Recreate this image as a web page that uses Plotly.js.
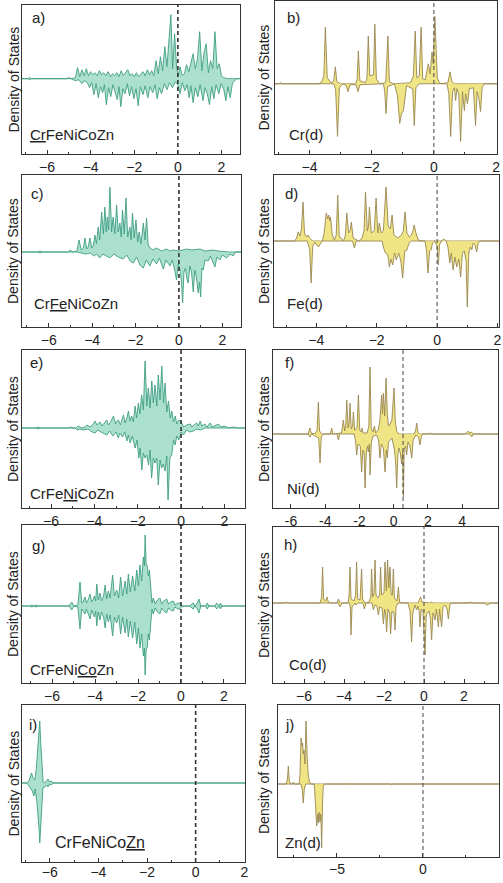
<!DOCTYPE html>
<html>
<head>
<meta charset="utf-8">
<script src="https://cdn.plot.ly/plotly-3.0.1.min.js"></script>
<style>html,body{margin:0;padding:0;background:#fff}#chart{width:503px;height:883px}</style>
</head>
<body>
<div id="chart"></div>
<script>
// ---- DATA: [energy (eV), DOS (arb. units)] ----
const aUp = [[-7.2,0],[-6.9,0],[-6.8,1],[-6.7,0],[-5.1,0],[-5.0,1],[-4.9,0],[-4.7,1],[-4.6,11],[-4.5,2],[-4.4,9],[-4.3,3],[-4.2,10],[-4.1,3],[-4.0,7],[-3.9,4],[-3.8,6],[-3.7,3],[-3.6,8],[-3.5,4],[-3.4,6],[-3.3,3],[-3.2,7],[-3.1,2],[-3.0,5],[-2.9,3],[-2.8,6],[-2.7,2],[-2.6,8],[-2.5,3],[-2.4,6],[-2.3,9],[-2.2,3],[-2.1,5],[-2.0,2],[-1.9,6],[-1.8,2],[-1.7,4],[-1.6,7],[-1.5,3],[-1.4,9],[-1.3,4],[-1.2,8],[-1.1,3],[-1.0,18],[-0.9,5],[-0.8,22],[-0.7,8],[-0.6,32],[-0.5,12],[-0.42,40],[-0.32,64],[-0.24,10],[-0.15,45],[-0.06,12],[0.02,3],[0.1,12],[0.2,3],[0.3,5],[0.4,14],[0.5,7],[0.6,15],[0.7,25],[0.8,10],[0.9,20],[1.0,47],[1.1,8],[1.2,26],[1.3,35],[1.4,6],[1.5,18],[1.6,10],[1.7,47],[1.8,10],[1.9,15],[2.0,3],[2.1,1],[2.3,0],[2.85,0]];
const aDn = [[-7.2,0],[-6.9,0],[-6.8,-1],[-6.7,0],[-4.9,0],[-4.7,-2],[-4.55,-1],[-4.4,-5],[-4.3,-2],[-4.15,-4],[-4.05,-9],[-3.95,-4],[-3.85,-16],[-3.75,-5],[-3.65,-19],[-3.55,-8],[-3.45,-14],[-3.37,-6],[-3.28,-26],[-3.18,-9],[-3.08,-18],[-2.98,-6],[-2.88,-13],[-2.78,-21],[-2.7,-8],[-2.62,-28],[-2.52,-10],[-2.42,-15],[-2.32,-5],[-2.22,-17],[-2.12,-8],[-2.02,-20],[-1.92,-10],[-1.82,-27],[-1.72,-8],[-1.6,-16],[-1.5,-7],[-1.38,-19],[-1.28,-8],[-1.15,-14],[-1.05,-6],[-0.95,-20],[-0.85,-9],[-0.75,-15],[-0.62,-5],[-0.5,-11],[-0.38,-4],[-0.25,-9],[-0.12,-3],[0.0,-6],[0.1,-15],[0.2,-4],[0.32,-12],[0.42,-6],[0.52,-19],[0.6,-7],[0.7,-24],[0.8,-9],[0.92,-18],[1.02,-6],[1.15,-22],[1.25,-9],[1.35,-15],[1.45,-26],[1.55,-8],[1.65,-20],[1.75,-6],[1.88,-15],[1.98,-5],[2.1,-10],[2.2,-22],[2.3,-8],[2.4,-19],[2.5,-5],[2.6,-2],[2.7,0],[2.85,0]];

const bUp = [[-5.11,0],[-4.98,0],[-4.93,1],[-4.88,0],[-3.7,0],[-3.6,2],[-3.54,8],[-3.49,57],[-3.43,6],[-3.3,1],[-3.22,3],[-3.17,17],[-3.12,2],[-3.0,0],[-2.52,0],[-2.47,4],[-2.43,33],[-2.38,3],[-2.2,1],[-2.15,6],[-2.11,48],[-2.06,8],[-1.94,9],[-1.9,60],[-1.85,5],[-1.75,0],[-1.55,1],[-1.48,48],[-1.43,2],[-1.3,0],[-0.75,1],[-0.66,8],[-0.6,53],[-0.55,6],[-0.47,8],[-0.41,57],[-0.36,5],[-0.28,4],[-0.18,20],[-0.12,10],[-0.06,32],[-0.02,20],[0.03,68],[0.07,25],[0.11,6],[0.16,2],[0.22,0],[0.45,1],[0.52,12],[0.58,2],[0.66,0],[2.03,0]];
const bDn = [[-5.11,0],[-3.22,0],[-3.16,-6],[-3.1,-53],[-3.04,-4],[-2.92,0],[-2.82,-2],[-2.76,-8],[-2.7,-1],[-2.5,-1],[-2.44,-8],[-2.38,-1],[-1.62,0],[-1.58,-8],[-1.54,-30],[-1.49,-3],[-1.27,0],[-1.17,-12],[-1.1,-40],[-1.04,-30],[-0.98,-27],[-0.94,-18],[-0.88,-2],[-0.68,-5],[-0.63,-42],[-0.58,-4],[-0.47,0],[0.42,0],[0.48,-10],[0.54,-53],[0.6,-8],[0.66,-4],[0.7,-17],[0.74,-5],[0.8,-10],[0.86,-58],[0.92,-8],[0.98,-27],[1.02,-10],[1.08,-20],[1.14,-5],[1.27,-4],[1.34,-42],[1.39,-8],[1.45,-15],[1.5,-28],[1.55,-4],[1.62,0],[2.03,0]];

const cUp = [[-7.23,0],[-6.5,0],[-6.4,1],[-6.3,0],[-5.1,0],[-5.0,2],[-4.9,0],[-4.7,1],[-4.6,12],[-4.5,2],[-4.4,4],[-4.33,14],[-4.25,3],[-4.18,5],[-4.1,14],[-4.02,4],[-3.95,6],[-3.87,17],[-3.8,8],[-3.72,25],[-3.65,12],[-3.56,40],[-3.48,18],[-3.41,45],[-3.35,20],[-3.3,35],[-3.24,22],[-3.18,65],[-3.1,20],[-3.03,35],[-2.95,18],[-2.87,47],[-2.8,20],[-2.72,29],[-2.66,15],[-2.6,42],[-2.52,18],[-2.44,54],[-2.36,15],[-2.26,25],[-2.2,12],[-2.14,39],[-2.06,14],[-1.98,32],[-1.9,10],[-1.83,20],[-1.75,8],[-1.64,29],[-1.56,12],[-1.49,34],[-1.42,8],[-1.37,5],[-1.2,2],[-1.03,4],[-0.8,1],[-0.57,3],[-0.4,1],[-0.26,2],[0.0,1],[0.2,2],[0.35,3],[0.6,2],[0.97,3],[1.2,1],[1.58,2],[1.8,1],[2.3,0],[2.86,0]];
const cDn = [[-7.23,0],[-6.5,0],[-6.4,-1],[-6.3,0],[-4.7,0],[-4.3,-2],[-4.1,-1],[-3.9,-4],[-3.8,-2],[-3.65,-6],[-3.5,-2],[-3.35,-4],[-3.18,-6],[-3.0,-2],[-2.8,-5],[-2.57,-7],[-2.4,-3],[-2.25,-9],[-2.1,-11],[-1.95,-5],[-1.8,-13],[-1.64,-16],[-1.5,-8],[-1.34,-14],[-1.2,-7],[-1.03,-12],[-0.9,-6],[-0.72,-17],[-0.6,-8],[-0.41,-14],[-0.3,-8],[-0.18,-20],[-0.11,-28],[-0.03,-12],[0.05,-18],[0.12,-30],[0.17,-51],[0.23,-20],[0.3,-16],[0.36,-26],[0.43,-31],[0.5,-14],[0.58,-20],[0.66,-40],[0.73,-18],[0.81,-26],[0.89,-41],[0.95,-30],[1.0,-45],[1.06,-16],[1.12,-18],[1.2,-8],[1.35,-9],[1.45,-4],[1.55,-10],[1.66,-15],[1.75,-5],[1.89,-8],[2.0,-3],[2.2,-6],[2.35,-2],[2.5,-4],[2.6,0],[2.86,0]];

const dUp = [[-5.4,0],[-4.72,0],[-4.65,3],[-4.6,9],[-4.54,5],[-4.49,12],[-4.44,39],[-4.39,8],[-4.33,4],[-4.27,6],[-4.22,3],[-4.12,0],[-3.8,0],[-3.74,8],[-3.67,28],[-3.62,22],[-3.59,26],[-3.55,20],[-3.53,24],[-3.47,6],[-3.4,1],[-3.34,6],[-3.29,46],[-3.24,5],[-3.1,0],[-3.04,5],[-2.99,28],[-2.93,8],[-2.88,10],[-2.84,19],[-2.78,3],[-2.6,0],[-2.5,2],[-2.42,10],[-2.37,49],[-2.31,10],[-2.27,15],[-2.24,34],[-2.18,8],[-2.08,10],[-2.02,43],[-1.96,8],[-1.91,18],[-1.85,8],[-1.78,10],[-1.69,54],[-1.62,15],[-1.55,12],[-1.49,26],[-1.43,6],[-1.3,3],[-1.18,6],[-1.12,10],[-1.06,29],[-1.0,8],[-0.92,4],[-0.85,6],[-0.8,10],[-0.76,16],[-0.7,8],[-0.62,1],[-0.5,0],[0.18,0],[0.25,1],[0.32,0],[2.05,0]];
const dDn = [[-5.4,0],[-4.3,0],[-4.22,-8],[-4.17,-42],[-4.12,-6],[-4.05,-1],[-3.98,-4],[-3.93,-6],[-3.87,-3],[-3.8,0],[-2.8,0],[-2.74,-7],[-2.68,0],[-1.82,0],[-1.76,-8],[-1.71,-12],[-1.63,-14],[-1.58,-26],[-1.53,-18],[-1.47,-24],[-1.41,-12],[-1.35,-19],[-1.27,-12],[-1.2,-20],[-1.14,-37],[-1.07,-10],[-1.0,-9],[-0.93,-2],[-0.85,0],[-0.4,0],[-0.35,-10],[-0.3,-32],[-0.25,-10],[-0.2,-9],[-0.15,-2],[-0.08,0],[0.0,-5],[0.04,-24],[0.08,-4],[0.14,0],[0.22,2],[0.3,0],[0.36,-6],[0.42,-22],[0.47,-12],[0.53,-29],[0.59,-16],[0.65,-26],[0.72,-18],[0.78,-36],[0.84,-12],[0.9,-10],[0.96,-20],[1.0,-66],[1.05,-12],[1.1,-6],[1.15,-9],[1.2,-2],[1.26,-4],[1.31,-11],[1.36,-2],[1.42,0],[2.05,0]];

const eUp = [[-7.34,0],[-6.7,0],[-6.6,1],[-6.5,0],[-5.2,0],[-5.1,1],[-5.0,0],[-4.85,0],[-4.74,2],[-4.6,0],[-4.45,1],[-4.35,3],[-4.2,1],[-4.05,4],[-3.97,7],[-3.88,3],[-3.8,5],[-3.74,6],[-3.65,2],[-3.55,5],[-3.43,8],[-3.35,3],[-3.25,6],[-3.12,12],[-3.02,4],[-2.95,7],[-2.89,8],[-2.8,3],[-2.72,8],[-2.66,13],[-2.58,5],[-2.5,10],[-2.43,17],[-2.36,7],[-2.28,12],[-2.2,6],[-2.12,22],[-2.05,10],[-1.97,25],[-1.9,14],[-1.82,33],[-1.74,18],[-1.66,67],[-1.58,22],[-1.51,40],[-1.43,20],[-1.35,47],[-1.28,25],[-1.2,43],[-1.12,22],[-1.05,53],[-0.97,28],[-0.89,62],[-0.81,25],[-0.74,45],[-0.66,16],[-0.58,27],[-0.5,10],[-0.43,17],[-0.35,6],[-0.27,12],[-0.2,4],[-0.1,8],[0.03,5],[0.12,1],[0.25,3],[0.42,4],[0.5,1],[0.6,3],[0.72,5],[0.8,2],[0.88,7],[0.96,2],[1.1,4],[1.2,1],[1.34,5],[1.45,1],[1.6,3],[1.72,4],[1.85,1],[2.0,2],[2.2,0],[2.42,1],[2.6,0],[2.95,0]];
const eDn = [[-7.34,0],[-6.7,0],[-6.6,-1],[-6.5,0],[-4.9,0],[-4.8,-2],[-4.66,-1],[-4.5,-2],[-4.3,-1],[-4.1,-4],[-3.97,-5],[-3.85,-2],[-3.7,-4],[-3.55,-6],[-3.43,-7],[-3.3,-3],[-3.15,-8],[-3.0,-4],[-2.9,-10],[-2.82,-5],[-2.7,-9],[-2.6,-4],[-2.5,-13],[-2.43,-7],[-2.35,-15],[-2.25,-8],[-2.12,-20],[-2.03,-12],[-1.95,-30],[-1.89,-20],[-1.81,-42],[-1.74,-25],[-1.66,-30],[-1.58,-27],[-1.5,-37],[-1.43,-22],[-1.36,-50],[-1.28,-30],[-1.2,-35],[-1.12,-30],[-1.05,-57],[-0.97,-32],[-0.9,-40],[-0.82,-36],[-0.74,-43],[-0.66,-28],[-0.6,-72],[-0.52,-30],[-0.43,-27],[-0.35,-12],[-0.27,-17],[-0.2,-8],[-0.1,-12],[0.0,-4],[0.11,-7],[0.25,-2],[0.4,-4],[0.57,-3],[0.7,-1],[0.9,-2],[1.1,0],[2.95,0]];

const fUp = [[-7.05,0],[-5.0,0],[-4.95,3],[-4.89,6],[-4.83,1],[-4.6,0],[-4.47,4],[-4.4,32],[-4.33,3],[-4.2,0],[-3.7,0],[-3.62,6],[-3.55,0],[-3.05,1],[-2.98,8],[-2.94,14],[-2.86,3],[-2.8,8],[-2.74,34],[-2.66,6],[-2.6,12],[-2.55,31],[-2.48,5],[-2.4,8],[-2.35,22],[-2.28,4],[-2.14,6],[-2.06,39],[-1.98,4],[-1.9,2],[-1.85,6],[-1.78,1],[-1.55,1],[-1.45,8],[-1.38,67],[-1.31,6],[-1.2,2],[-1.12,8],[-1.05,1],[-0.9,4],[-0.8,14],[-0.7,39],[-0.65,20],[-0.6,41],[-0.52,18],[-0.44,56],[-0.37,20],[-0.3,8],[-0.2,10],[-0.1,14],[0.02,46],[0.1,12],[0.18,3],[0.3,0],[1.2,0],[1.28,3],[1.35,11],[1.42,2],[1.5,0],[2.05,0],[2.13,1],[2.25,0],[4.2,0],[4.3,2],[4.37,3],[4.45,1],[4.55,2],[4.65,0],[6.1,0]];
const fDn = [[-7.05,0],[-5.0,0],[-4.89,-3],[-4.8,0],[-4.38,-4],[-4.3,-29],[-4.23,-3],[-4.1,0],[-3.3,0],[-3.23,-6],[-3.15,0],[-2.3,0],[-2.22,-8],[-2.16,-21],[-2.08,-10],[-1.95,-12],[-1.87,-38],[-1.8,-16],[-1.72,-20],[-1.67,-54],[-1.6,-18],[-1.52,-12],[-1.48,-18],[-1.42,-10],[-1.38,-41],[-1.3,-8],[-1.2,-2],[-1.0,-1],[-0.88,-6],[-0.8,-24],[-0.72,-10],[-0.6,-14],[-0.5,-38],[-0.43,-16],[-0.37,-24],[-0.3,-8],[-0.1,-4],[0.05,-16],[0.12,-30],[0.18,-54],[0.25,-20],[0.32,-14],[0.4,-20],[0.47,-30],[0.52,-18],[0.57,-63],[0.62,-15],[0.7,-12],[0.76,-21],[0.84,-8],[0.95,-12],[1.06,-24],[1.14,-6],[1.3,-1],[1.45,-3],[1.54,-11],[1.62,-2],[1.7,0],[4.45,0],[4.56,-3],[4.68,0],[6.1,0]];

const gUp = [[-7.4,0],[-7.05,0],[-6.95,1],[-6.85,0],[-6.75,1],[-6.65,0],[-5.2,0],[-5.09,4],[-4.98,0],[-4.8,1],[-4.7,24],[-4.62,3],[-4.55,4],[-4.47,9],[-4.4,3],[-4.32,6],[-4.23,12],[-4.16,4],[-4.1,6],[-4.03,10],[-3.97,5],[-3.92,22],[-3.85,6],[-3.77,13],[-3.7,5],[-3.6,10],[-3.53,21],[-3.46,7],[-3.38,15],[-3.3,8],[-3.18,31],[-3.1,10],[-2.99,16],[-2.9,8],[-2.81,29],[-2.72,10],[-2.6,25],[-2.52,12],[-2.45,32],[-2.36,14],[-2.25,30],[-2.15,15],[-2.06,36],[-1.98,20],[-1.91,41],[-1.83,25],[-1.75,49],[-1.7,40],[-1.67,71],[-1.62,42],[-1.57,40],[-1.52,30],[-1.47,36],[-1.4,10],[-1.35,3],[-1.29,8],[-1.2,2],[-1.1,6],[-0.98,8],[-0.9,2],[-0.8,5],[-0.67,7],[-0.58,2],[-0.48,4],[-0.36,5],[-0.28,1],[-0.15,3],[-0.05,3],[0.05,0],[0.4,0],[0.5,2],[0.57,3],[0.65,0],[0.76,3],[0.84,7],[0.92,0],[1.15,0],[1.22,3],[1.3,0],[1.58,0],[1.66,3],[1.74,0],[1.78,0],[1.84,3],[1.9,0],[2.98,0]];
const gDn = [[-7.4,0],[-7.05,0],[-6.95,-1],[-6.85,0],[-6.75,-1],[-6.65,0],[-5.2,0],[-5.09,-4],[-4.98,0],[-4.8,-1],[-4.7,-23],[-4.62,-3],[-4.55,-5],[-4.47,-8],[-4.4,-3],[-4.32,-7],[-4.23,-13],[-4.16,-4],[-4.1,-7],[-4.03,-11],[-3.97,-5],[-3.92,-20],[-3.85,-6],[-3.77,-14],[-3.7,-6],[-3.6,-11],[-3.53,-22],[-3.46,-8],[-3.38,-16],[-3.3,-9],[-3.18,-30],[-3.1,-11],[-2.99,-17],[-2.9,-9],[-2.81,-28],[-2.72,-11],[-2.6,-27],[-2.52,-13],[-2.45,-31],[-2.36,-15],[-2.25,-32],[-2.15,-16],[-2.06,-38],[-1.98,-22],[-1.91,-42],[-1.83,-28],[-1.75,-50],[-1.7,-42],[-1.67,-69],[-1.62,-44],[-1.57,-41],[-1.52,-28],[-1.47,-34],[-1.4,-10],[-1.35,-3],[-1.29,-8],[-1.2,-2],[-1.1,-6],[-0.98,-8],[-0.9,-2],[-0.8,-5],[-0.67,-7],[-0.58,-2],[-0.48,-4],[-0.36,-5],[-0.28,-1],[-0.15,-3],[-0.05,-3],[0.05,0],[0.4,0],[0.5,-2],[0.57,-3],[0.65,0],[0.76,-3],[0.84,-7],[0.92,0],[1.15,0],[1.22,-3],[1.3,0],[1.58,0],[1.66,-3],[1.74,0],[1.78,0],[1.84,-3],[1.9,0],[2.98,0]];

const hUp = [[-7.55,0],[-6.95,0],[-6.87,1],[-6.8,0],[-5.2,0],[-5.12,6],[-5.07,36],[-5.02,4],[-4.92,2],[-4.85,6],[-4.78,1],[-4.7,0],[-4.35,0],[-4.28,4],[-4.2,0],[-3.8,0],[-3.75,6],[-3.7,36],[-3.65,4],[-3.5,2],[-3.42,8],[-3.37,41],[-3.32,4],[-3.2,3],[-3.12,34],[-3.07,4],[-2.95,0],[-2.75,1],[-2.66,6],[-2.62,34],[-2.57,6],[-2.5,10],[-2.45,43],[-2.4,8],[-2.3,5],[-2.22,8],[-2.17,36],[-2.12,8],[-2.0,10],[-1.95,41],[-1.88,12],[-1.82,43],[-1.76,15],[-1.7,36],[-1.64,8],[-1.58,8],[-1.53,34],[-1.48,5],[-1.35,2],[-1.28,16],[-1.22,1],[-1.1,0],[-0.3,0],[-0.22,3],[-0.17,6],[-0.1,1],[0.3,0],[0.38,1],[0.45,0],[2.2,0],[2.3,1],[2.4,0],[3.7,0]];
const hDn = [[-7.55,0],[-4.3,0],[-4.2,-4],[-4.1,0],[-3.72,0],[-3.68,-6],[-3.65,-32],[-3.6,-4],[-3.45,0],[-3.4,-2],[-3.3,0],[-3.05,0],[-2.98,-6],[-2.9,0],[-2.6,0],[-2.53,-7],[-2.46,-2],[-2.35,-3],[-2.28,-12],[-2.22,-4],[-2.1,-5],[-2.03,-21],[-1.97,-6],[-1.92,-10],[-1.87,-29],[-1.8,-6],[-1.72,-10],[-1.67,-31],[-1.6,-8],[-1.5,-10],[-1.45,-27],[-1.4,-4],[-1.3,0],[-0.8,0],[-0.7,-8],[-0.62,-39],[-0.56,-10],[-0.45,-2],[-0.37,-7],[-0.3,-3],[-0.24,-8],[-0.2,-24],[-0.14,-6],[-0.05,-8],[0.05,-52],[0.11,-12],[0.17,-10],[0.25,-8],[0.32,-15],[0.38,-37],[0.45,-10],[0.55,-17],[0.62,-6],[0.72,-24],[0.78,-6],[0.88,-24],[0.95,-4],[1.05,-2],[1.15,-6],[1.22,-16],[1.3,-1],[1.4,0],[3.05,0],[3.13,-2],[3.25,-1],[3.35,0],[3.7,0]];

const iUp = [[-7.14,0],[-6.95,0],[-6.85,2],[-6.75,10],[-6.68,5],[-6.61,3],[-6.55,15],[-6.48,35],[-6.44,45],[-6.41,62],[-6.37,40],[-6.34,25],[-6.3,5],[-6.27,1],[-6.2,0],[-6.13,2],[-6.07,4],[-6.0,1],[-5.93,2],[-5.86,0],[-4.5,0],[-4.4,0.5],[-4.3,0],[-2.7,0],[-2.6,0.5],[-2.5,0],[2.03,0]];
const iDn = [[-7.14,0],[-6.95,0],[-6.85,-3],[-6.72,-8],[-6.65,-13],[-6.6,-6],[-6.53,-18],[-6.48,-30],[-6.44,-45],[-6.41,-60],[-6.37,-42],[-6.33,-20],[-6.28,-5],[-6.2,-4],[-6.13,-2],[-6.07,-4],[-6.0,-1],[-5.93,-2],[-5.86,0],[2.03,0]];

const jUp = [[-8.43,0],[-7.95,0],[-7.88,5],[-7.83,18],[-7.78,4],[-7.7,0],[-7.6,0],[-7.54,2],[-7.48,0],[-7.2,0],[-7.15,10],[-7.09,46],[-7.04,38],[-7.0,41],[-6.96,30],[-6.92,34],[-6.86,20],[-6.8,63],[-6.74,30],[-6.67,9],[-6.6,2],[-6.5,0],[-4.5,0],[-4.44,1],[-4.38,0],[-2.0,0],[-1.95,0.5],[-1.9,0],[4.42,0]];
const jDn = [[-8.43,0],[-7.1,0],[-7.02,-6],[-6.96,-19],[-6.9,-5],[-6.82,0],[-6.32,0],[-6.26,-20],[-6.2,-35],[-6.18,-42],[-6.12,-30],[-6.09,-39],[-6.04,-28],[-5.99,-38],[-5.94,-30],[-5.89,-64],[-5.84,-20],[-5.8,-2],[-5.7,0],[-4.5,0],[-4.44,-1],[-4.38,0],[-1.88,0],[-1.82,-1],[-1.76,0],[4.42,0]];

const panelLetters = ['a)','b)','c)','d)','e)','f)','g)','h)','i)','j)'];
const alloyLabels = ['<u>Cr</u>FeNiCoZn','Cr(d)','Cr<u>Fe</u>NiCoZn','Fe(d)','CrFe<u>Ni</u>CoZn','Ni(d)','CrFeNi<u>Co</u>Zn','Co(d)','CrFeNiCo<u>Zn</u>','Zn(d)'];
const fermiLevels = [0,0,0,0,0,0.55,0,0,0,0];
const fTickVals = [-6,-4,-2,0,2,4];
const yTitle = 'Density of States';

// ---- LAYOUT (page pixels) ----
const W = 503, H = 883;
const panels = [
  {up:aUp, dn:aDn, xr:[-7.15,2.85], yr:[-75.3,73.7], box:[22,240,5,154],  side:'L', lab:[30,17],  mat:[28,134], ms:15},
  {up:bUp, dn:bDn, xr:[-5.11,2.03], yr:[-70.7,83.3], box:[275,497,1,154], side:'R', lab:[285,17], mat:[287,134], ms:15},
  {up:cUp, dn:cDn, xr:[-7.23,2.86], yr:[-75,77],     box:[22,241,175,327],side:'L', lab:[29,193], mat:[32,303], ms:15},
  {up:dUp, dn:dDn, xr:[-5.4,2.05],  yr:[-86,66],     box:[274,499,175,327],side:'R',lab:[283,193],mat:[285,303], ms:15},
  {up:eUp, dn:eDn, xr:[-7.34,2.95], yr:[-80,78],     box:[22,245,350,508],side:'L', lab:[28,362], mat:[28,493], ms:15},
  {up:fUp, dn:fDn, xr:[-7.05,6.1],  yr:[-74,84],     box:[273,498,350,508],side:'R',lab:[283,362],mat:[285,488], ms:15, tv:fTickVals},
  {up:gUp, dn:gDn, xr:[-7.4,2.98],  yr:[-77,81],     box:[22,245,525,683],side:'L', lab:[30,545], mat:[28,669], ms:15},
  {up:hUp, dn:hDn, xr:[-7.55,3.7],  yr:[-80,76],     box:[273,498,527,683],side:'R',lab:[282,544],mat:[287,664], ms:15},
  {up:iUp, dn:iDn, xr:[-7.14,2.03], yr:[-79,78],     box:[22,245,705,862],side:'L', lab:[27,724], mat:[53,842], ms:16, so:-3},
  {up:jUp, dn:jDn, xr:[-8.43,4.42], yr:[-73,79],     box:[278,499,705,857],side:'R',lab:[283,724],mat:[283,842], ms:15, dt:5, mdt:2.5, so:-1}
];

const FONT = 'Liberation Sans, Arial, Helvetica, sans-serif';
const px = v => v / W;
const py = v => 1 - v / H;
const STY = {
  L: {line:'#3f9e82', fill:'rgba(120,205,178,0.62)', fermi:'#333', fw:1.6},
  R: {line:'#9a8752', fill:'rgba(236,224,110,0.85)', fermi:'#555', fw:1.1}
};

const traces = [];
const layout = {
  width: W, height: H, margin:{l:0,r:0,t:0,b:0},
  paper_bgcolor:'#fff', plot_bgcolor:'#fff', showlegend:false,
  font:{family:FONT, color:'#222'},
  annotations:[], shapes:[]
};

panels.forEach((p, k) => {
  const n = k + 1, sfx = n === 1 ? '' : String(n);
  const st = STY[p.side];
  [p.up, p.dn].forEach(ser => {
    traces.push({
      type:'scatter', mode:'lines', xaxis:'x'+sfx, yaxis:'y'+sfx,
      x: ser.map(d => d[0]), y: ser.map(d => d[1]),
      fill:'tozeroy', fillcolor: st.fill,
      line:{color: st.line, width:0.9}, hoverinfo:'skip'
    });
  });
  const [x0,x1,y0,y1] = p.box;
  const xa = {
    domain:[px(x0), px(x1)], range:p.xr, anchor:'y'+sfx,
    showline:true, mirror:true, linecolor:'#333', linewidth:1.3,
    showgrid:false, zeroline:false, ticks:'inside', ticklen:4, tickcolor:'#333', tickwidth:1,
    tickfont:{size:14, color:'#222', family:FONT}, ticklabelstandoff:(p.so !== undefined ? p.so : 0),
    fixedrange:true
  };
  if (p.tv) { xa.tickmode='array'; xa.tickvals=p.tv; xa.ticktext=p.tv.map(String); }
  else { xa.tick0 = 0; xa.dtick = p.dt || 2;
         xa.minor = {ticks:'inside', ticklen:2, dtick:(p.mdt || 1), tickcolor:'#333'}; }
  const ya = {
    domain:[py(y1), py(y0)], range:p.yr, anchor:'x'+sfx,
    showline:true, mirror:true, linecolor:'#333', linewidth:1.3,
    showgrid:false, zeroline:false, showticklabels:false, ticks:'', fixedrange:true
  };
  layout['xaxis'+sfx] = xa;
  layout['yaxis'+sfx] = ya;

  layout.shapes.push({
    type:'line', xref:'x'+sfx, yref:'y'+sfx+' domain',
    x0:fermiLevels[k], x1:fermiLevels[k], y0:0, y1:1,
    line:{color:st.fermi, width:st.fw, dash:'4px,3px'}
  });

  layout.annotations.push({
    xref:'paper', yref:'paper', x:px(p.side==='L'?13:264), y:py((y0+y1)/2),
    text:yTitle, textangle:-90, showarrow:false, xanchor:'center', yanchor:'middle',
    font:{size:14, color:'#222', family:FONT}
  });
  layout.annotations.push({
    xref:'paper', yref:'paper', x:px(p.lab[0]), y:py(p.lab[1]),
    text:panelLetters[k], showarrow:false, xanchor:'left', yanchor:'middle',
    font:{size:15, color:'#222', family:FONT}
  });
  layout.annotations.push({
    xref:'paper', yref:'paper', x:px(p.mat[0]), y:py(p.mat[1]),
    text:alloyLabels[k], showarrow:false, xanchor:'left', yanchor:'middle',
    font:{size:p.ms, color:'#222', family:FONT}
  });
});

Plotly.newPlot('chart', traces, layout, {staticPlot:true, displayModeBar:false});
</script>
</body>
</html>
